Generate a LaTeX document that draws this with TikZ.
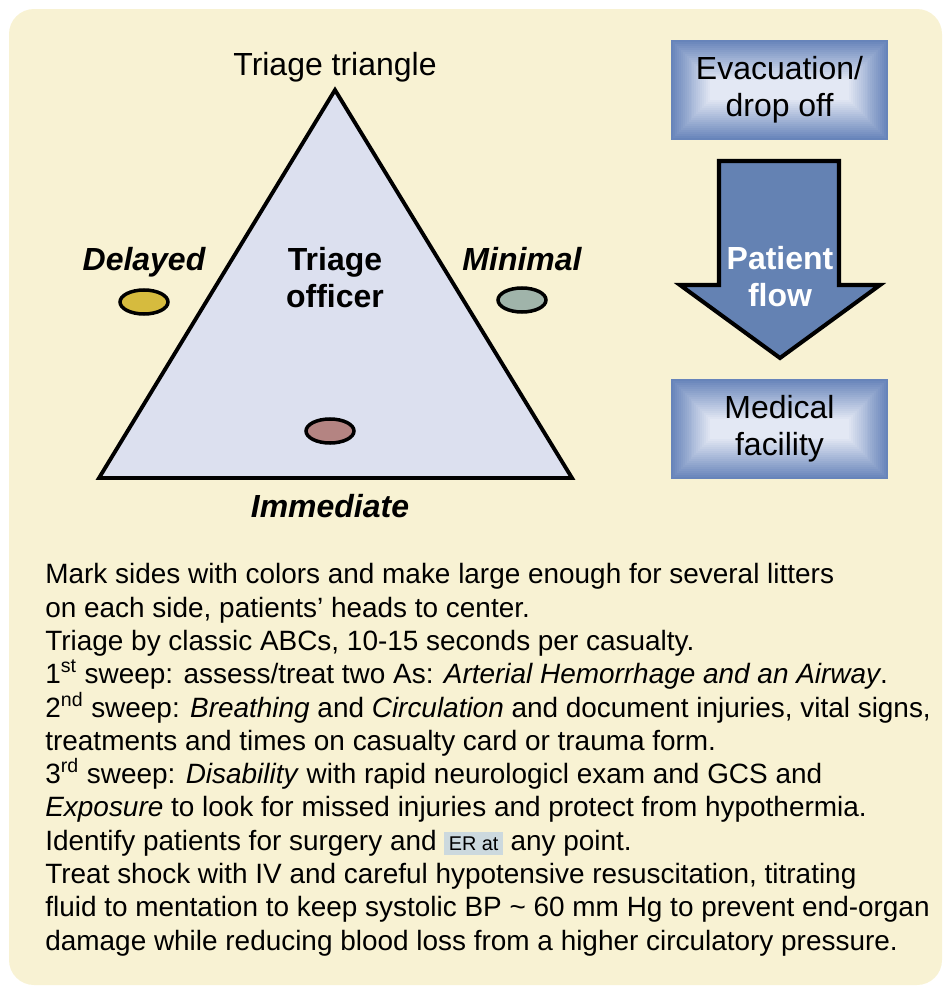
\documentclass[tikz,border=0pt]{standalone}
\usepackage{fontspec}
\setmainfont{Liberation Sans}
\usetikzlibrary{shapes.geometric}

\definecolor{panelbg}{HTML}{F8F2D3}
\definecolor{trifill}{HTML}{DCE0EF}
\definecolor{boxedge}{HTML}{6784BA}
\definecolor{boxmid}{HTML}{E3E8F4}
\definecolor{arrowfill}{HTML}{6482B3}
\definecolor{delayedcol}{HTML}{D6BB3E}
\definecolor{minimalcol}{HTML}{A0B4AA}
\definecolor{immedcol}{HTML}{B48482}
\definecolor{tipbg}{HTML}{CCD9DE}

\tikzset{
    sidelabel/.style={inner sep=0pt, font=\fontsize{18.2}{21}\selectfont\bfseries\itshape},
    headlabel/.style={inner sep=0pt, font=\fontsize{18.2}{21}\selectfont},
    patch/.style={ellipse, draw=black, line width=2pt, minimum width=0.96cm, minimum height=0.48cm, inner sep=0pt},
    % embossed box: rings from dark rim to light centre
    flowbox/.style={minimum width=4.34cm, minimum height=2cm, inner sep=0pt, align=center,
        font=\fontsize{18.2}{21}\selectfont, fill=boxedge,
        path picture={
            \foreach \i in {0,1,...,20} {
                \pgfmathtruncatemacro{\shadepct}{100-5*\i}
                \fill[boxedge!\shadepct!boxmid]
                    ([xshift=\i*0.039cm, yshift=-\i*0.04cm]path picture bounding box.north west) rectangle
                    ([xshift=-\i*0.039cm, yshift=\i*0.04cm]path picture bounding box.south east);
            }
        }},
    bodytext/.style={inner sep=0pt, align=left, font=\fontsize{15.9}{18.94}\selectfont}
}

\begin{document}
\begin{tikzpicture}[x=0.02cm, y=-0.02cm]
    \useasboundingbox (0,0) rectangle (946,987);

    % panel
    \fill[panelbg, rounded corners=0.5cm] (9,9) rectangle (942,985);

    % triage triangle
    \draw[fill=trifill, line width=2.2pt, line join=miter] (335,90) -- (572,478) -- (99,478) -- cycle;
    \node[headlabel, anchor=base] (title) at (335,75) {Triage triangle};
    \node[headlabel, font=\fontsize{18.2}{21}\selectfont\bfseries, align=center] (officer) at (335,278) {Triage\\officer};

    % the three sides
    \node[sidelabel, anchor=base] (delayed) at (144,270) {Delayed};
    \node[patch, fill=delayedcol] (delayedspot) at (144,302) {};
    \node[sidelabel, anchor=base] (minimal) at (522,270) {Minimal};
    \node[patch, fill=minimalcol] (minimalspot) at (522,300) {};
    \node[patch, fill=immedcol] (immedspot) at (330,431) {};
    \node[sidelabel, anchor=base] (immediate) at (330,517) {Immediate};

    % patient flow
    \node[flowbox] (evac) at (779.5,90) {Evacuation/\\drop off};
    \draw[fill=arrowfill, line width=2.3pt, line join=miter]
        (719,161) -- (839,161) -- (839,285) -- (880,285) -- (780,358) -- (680,285) -- (719,285) -- cycle;
    \node[headlabel, font=\fontsize{18.2}{21}\selectfont\bfseries, text=white, align=center] (flow) at (780,277) {Patient\\flow};
    \node[flowbox] (medical) at (779.5,429) {Medical\\facility};

    % notes
    \node[bodytext, anchor=base west] (notes) at (45,950) {%
        Mark sides with colors and make large enough for several litters\\
        on each side, patients’ heads to center.\\
        Triage by classic ABCs, 10-15 seconds per casualty.\\
        1\textsuperscript{st} sweep: assess/treat two As: \textit{Arterial Hemorrhage and an Airway}.\\
        2\textsuperscript{nd} sweep: \textit{Breathing} and \textit{Circulation} and document injuries, vital signs,\\
        treatments and times on casualty card or trauma form.\\
        3\textsuperscript{rd} sweep: \textit{Disability} with rapid neurologicl exam and GCS and\\
        \textit{Exposure} to look for missed injuries and protect from hypothermia.\\
        Identify patients for surgery and {\setlength{\fboxsep}{2.5pt}\colorbox{tipbg}{\fontsize{11.3}{13}\selectfont ER at}} any point.\\
        Treat shock with IV and careful hypotensive resuscitation, titrating\\
        fluid to mentation to keep systolic BP \textasciitilde{} 60 mm Hg to prevent end-organ\\
        damage while reducing blood loss from a higher circulatory pressure.};
\end{tikzpicture}
\end{document}
